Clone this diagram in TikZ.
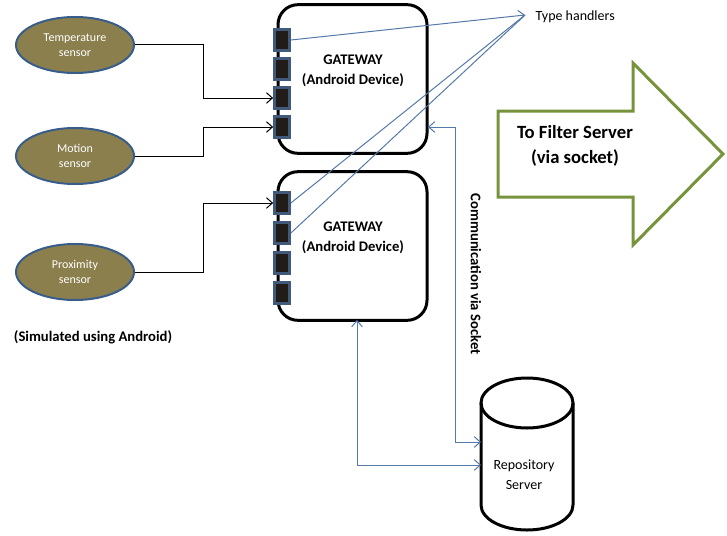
\documentclass[tikz,border=0pt]{standalone}
\usepackage{fontspec}
\setmainfont{Carlito}
\usetikzlibrary{shapes.geometric,arrows.meta}
\definecolor{sensorfill}{HTML}{8C7F4E}
\definecolor{sensorline}{HTML}{385D8A}
\definecolor{portfill}{HTML}{211C18}
\definecolor{portline}{HTML}{41597A}
\definecolor{linkblue}{HTML}{5579A8}
\definecolor{arrowgreen}{HTML}{77933C}
\begin{document}
\begin{tikzpicture}[x=0.75pt,y=-0.75pt,
    >={Straight Barb[length=4.5pt,width=8pt]},
    sensor/.style={ellipse,draw=sensorline,line width=1.5pt,fill=sensorfill,
      minimum width=88.5pt,minimum height=42pt,inner sep=0pt,align=center,
      text=white,font=\fontsize{9}{11.25}\selectfont},
    gateway/.style={draw,line width=2.25pt,rounded corners=15pt,
      minimum width=111.75pt,minimum height=111.5pt},
    port/.style={draw=portline,line width=1.8pt,fill=portfill,
      minimum width=11.5pt,minimum height=16pt,inner sep=0pt},
    boldtext/.style={align=center,font=\bfseries\fontsize{11}{15}\selectfont},
    wire/.style={draw,line width=0.75pt},
    link/.style={draw=linkblue,line width=0.75pt}]
  \useasboundingbox (0,0) rectangle (727,535);
  % sensors
  \node[sensor] (temp) at (75,45) {Temperature\\sensor};
  \node[sensor] (motion) at (75,156) {Motion\\sensor};
  \node[sensor] (prox) at (75,272) {Proximity\\sensor};
  \node[boldtext] (simtxt) at (93,337) {(Simulated using Android)};
  % gateways
  \node[gateway] (g1) at (352.5,79) {};
  \node[gateway] (g2) at (352.5,246) {};
  \node[boldtext] (g1txt) at (353,71) {GATEWAY\\(Android Device)};
  \node[boldtext] (g2txt) at (353,238) {GATEWAY\\(Android Device)};
  \foreach \i/\y in {1/40,2/69,3/98,4/127}
    \node[port] (g1p\i) at (282,\y) {};
  \foreach \i/\y in {1/203,2/233,3/263,4/293}
    \node[port] (g2p\i) at (282,\y) {};
  % sensor wires
  \coordinate (jx) at (203,0);
  \draw[wire,->] (temp.east) -- (temp.east -| jx) |- (g1p3.west);
  \draw[wire,->] (motion.east) -- (motion.east -| jx) |- (g1p4.west);
  \draw[wire,->] (prox.east) -- (prox.east -| jx) |- (g2p1.west);
  % type handlers
  \coordinate (th) at (525,15);
  \node[anchor=west,font=\fontsize{10.5}{12}\selectfont] (thtxt) at (531,17) {Type handlers};
  \draw[link,->] (g1p1.east) -- (th);
  \draw[link] (g2p1.east) -- (th);
  \draw[link] (g2p2.east) -- (th);
  % repository
  \draw[line width=2.25pt] (527,403) ellipse[x radius=46,y radius=25];
  \draw[line width=2.25pt] (481,403) -- (481,505)
    arc[start angle=180,end angle=0,x radius=46,y radius=25] -- (573,403);
  \node[align=center,font=\fontsize{10.5}{15}\selectfont] (repo) at (524,475) {Repository\\Server};
  % socket links
  \coordinate (g1in) at (428,127);
  \coordinate (sockx) at (455,0);
  \coordinate (repoa) at (481,442);
  \coordinate (g2out) at (357,320);
  \coordinate (repob) at (481,465);
  \draw[link,<->] (g1in) -- (g1in -| sockx) -- (sockx |- repoa) -- (repoa);
  \draw[link,<->] (g2out) |- (repob);
  \node[boldtext,rotate=-90] (socktxt) at (476,274) {Communication via Socket};
  % filter server arrow
  \draw[arrowgreen,line width=2.25pt,line join=miter]
    (498,111) -- (633,111) -- (633,63) -- (723,154) -- (633,245)
    -- (633,197) -- (498,197) -- cycle;
  \node[align=center,font=\bfseries\fontsize{14}{18.75}\selectfont] (filtertxt) at (575,145.5)
    {To Filter Server\\(via socket)};
\end{tikzpicture}
\end{document}
